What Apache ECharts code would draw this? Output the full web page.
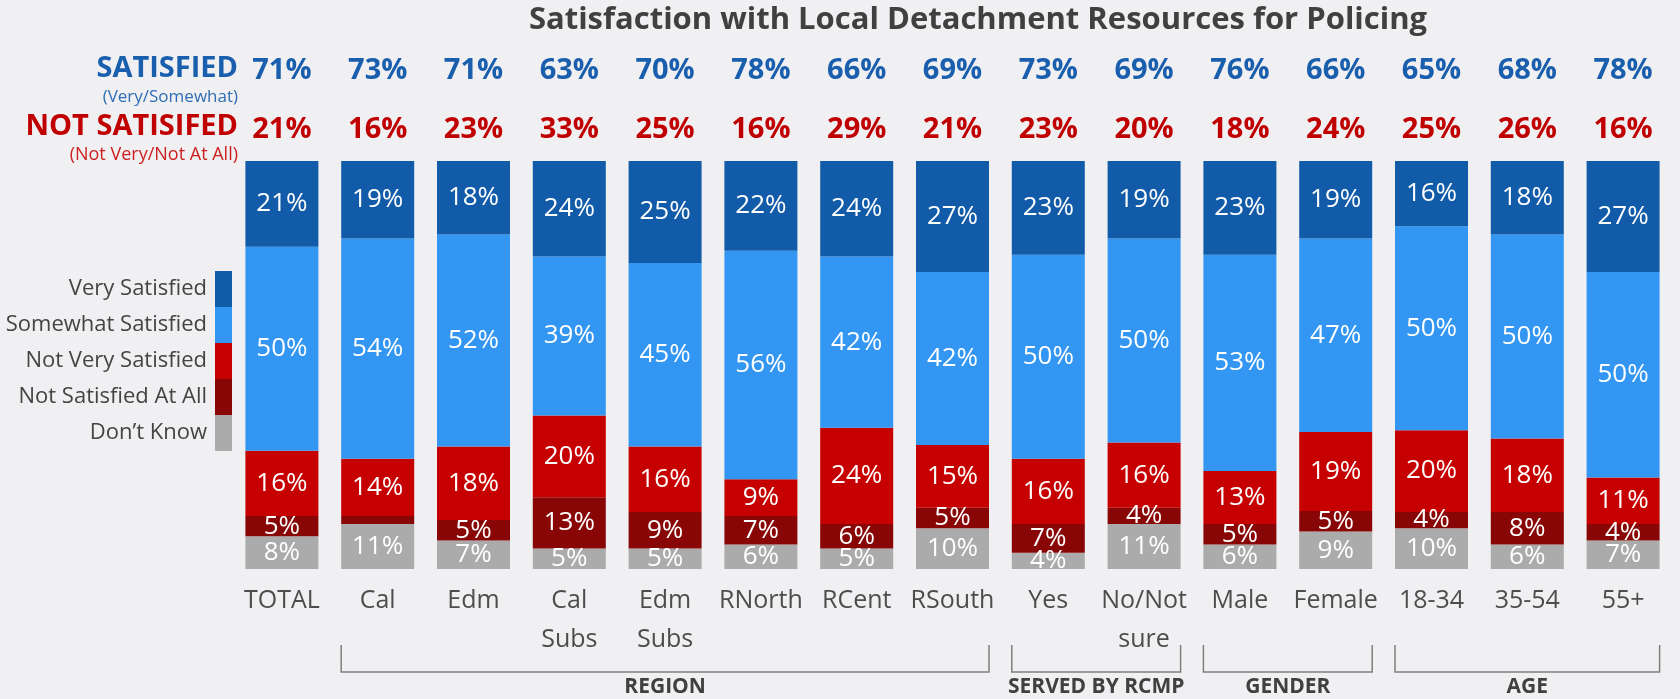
<!DOCTYPE html>
<html>
<head>
<meta charset="utf-8">
<script src="https://cdn.jsdelivr.net/npm/echarts@6/dist/echarts.min.js"></script>
<style>
  html, body { margin: 0; padding: 0; background: #f0f0f2; }
  #main { width: 1680px; height: 699px; }
</style>
</head>
<body>
<div id="main"></div>
<script>
// categories (bottom axis)
var categories = ['TOTAL', 'Cal', 'Edm', 'Cal\nSubs', 'Edm\nSubs', 'RNorth', 'RCent', 'RSouth',
                  'Yes', 'No/Not\nsure', 'Male', 'Female', '18-34', '35-54', '55+'];

// stacked segments, bottom to top (labels show rounded values)
var dontKnow       = [8, 11, 7, 5, 5, 6, 5, 10, 4, 11, 6, 9.2, 10, 6, 7];
var notAtAll       = [5, 2, 5, 12.6, 9, 7, 6, 5, 7, 4, 5, 5, 4, 8, 4];
var notVery        = [16, 14, 18, 20, 16, 9, 23.6, 15.4, 16, 16, 13, 19.4, 20, 18, 11.4];
var somewhat       = [50, 54, 52, 39, 45, 56, 42, 42.4, 50, 50, 53, 47.4, 50, 50, 50.4];
var verySatisfied  = [21, 19, 18, 23.6, 25, 22, 23.6, 27.2, 23, 19, 23, 19, 16, 18, 27.2];

// net rows at top
var satisfiedNet    = [71, 73, 71, 63, 70, 78, 66, 69, 73, 69, 76, 66, 65, 68, 78];
var notSatisfiedNet = [21, 16, 23, 33, 25, 16, 29, 21, 23, 20, 18, 24, 25, 26, 16];

// groups under the axis: [label, first index, last index]
var groups = [['REGION', 1, 7], ['SERVED BY RCMP', 8, 9], ['GENDER', 10, 11], ['AGE', 12, 14]];

var FONT = '"Open Sans", sans-serif';
var colors = {
  very: '#115ba9', somewhat: '#3296f2', notVery: '#c60000', notAtAll: '#880606', dk: '#ababab'
};

function pct(v) { return v + '%'; }

function seg(name, data, color) {
  return {
    name: name, type: 'bar', stack: 'all', data: data, barWidth: 73,
    itemStyle: { color: color },
    label: {
      show: true, position: 'inside', color: '#fff', fontSize: 26, fontFamily: FONT,
      formatter: function (p) { return p.value < 3 ? '' : Math.round(p.value) + '%'; }
    }
  };
}

var myChart = echarts.init(document.getElementById('main'));

myChart.setOption({
  backgroundColor: '#f0f0f2',
  animation: false,
  legend: {
    orient: 'vertical', right: 1680 - 232, top: 271, align: 'right', padding: 0,
    itemGap: 0, itemWidth: 17, itemHeight: 36, icon: 'rect',
    selectedMode: false,
    textStyle: { fontFamily: FONT, fontSize: 22, color: '#444', padding: [0, 3, 0, 0] },
    data: ['Very Satisfied', 'Somewhat Satisfied', 'Not Very Satisfied', 'Not Satisfied At All', 'Don\u2019t Know']
  },
  grid: { left: 234, right: 9, top: 161, bottom: 130 },
  xAxis: [
    {
      type: 'category', data: categories,
      axisLine: { show: false }, axisTick: { show: false },
      axisLabel: { margin: 12, fontFamily: FONT, fontSize: 25, color: '#4d4d4d', lineHeight: 39, interval: 0 }
    },
    {
      type: 'category', data: satisfiedNet.map(pct), position: 'top', offset: 90,
      axisLine: { show: false }, axisTick: { show: false },
      axisLabel: { margin: 0, verticalAlign: 'middle', fontFamily: FONT, fontSize: 29, fontWeight: 'bold', color: '#1a5eae', interval: 0 }
    },
    {
      type: 'category', data: notSatisfiedNet.map(pct), position: 'top', offset: 31,
      axisLine: { show: false }, axisTick: { show: false },
      axisLabel: { margin: 0, verticalAlign: 'middle', fontFamily: FONT, fontSize: 29, fontWeight: 'bold', color: '#c00000', interval: 0 }
    }
  ],
  yAxis: { type: 'value', min: 0, max: 100, show: false },
  series: [
    seg('Don\u2019t Know', dontKnow, colors.dk),
    seg('Not Satisfied At All', notAtAll, colors.notAtAll),
    seg('Not Very Satisfied', notVery, colors.notVery),
    seg('Somewhat Satisfied', somewhat, colors.somewhat),
    seg('Very Satisfied', verySatisfied, colors.very)
  ]
});

// title, row titles and group brackets
var g = [
  { type: 'text', x: 978, y: 20,
    style: { text: 'Satisfaction with Local Detachment Resources for Policing', fontFamily: FONT, fontSize: 31,
             fontWeight: 'bold', fill: '#404040', textAlign: 'center', textVerticalAlign: 'middle' } },
  { type: 'text', x: 238, y: 69,
    style: { text: 'SATISFIED', fontFamily: FONT, fontSize: 29, fontWeight: 'bold', fill: '#1a5eae',
             textAlign: 'right', textVerticalAlign: 'middle' } },
  { type: 'text', x: 238, y: 97,
    style: { text: '(Very/Somewhat)', fontFamily: FONT, fontSize: 17, fill: '#2e6db4',
             textAlign: 'right', textVerticalAlign: 'middle' } },
  { type: 'text', x: 238, y: 127,
    style: { text: 'NOT SATISIFED', fontFamily: FONT, fontSize: 29, fontWeight: 'bold', fill: '#c00000',
             textAlign: 'right', textVerticalAlign: 'middle' } },
  { type: 'text', x: 238, y: 155,
    style: { text: '(Not Very/Not At All)', fontFamily: FONT, fontSize: 18, fill: '#cc2020',
             textAlign: 'right', textVerticalAlign: 'middle' } }
];

var half = 36.5;
groups.forEach(function (gr) {
  var x1 = myChart.convertToPixel({ xAxisIndex: 0 }, categories[gr[1]]) - half;
  var x2 = myChart.convertToPixel({ xAxisIndex: 0 }, categories[gr[2]]) + half;
  g.push({
    type: 'polyline', silent: true,
    shape: { points: [[x1, 645], [x1, 672], [x2, 672], [x2, 645]] },
    style: { stroke: '#7f7f7f', lineWidth: 1.5, fill: null }
  });
  g.push({
    type: 'text', x: (x1 + x2) / 2, y: 687,
    style: { text: gr[0], fontFamily: FONT, fontSize: 21, fontWeight: 'bold', fill: '#404040',
             textAlign: 'center', textVerticalAlign: 'middle' }
  });
});

myChart.setOption({ graphic: g });
</script>
</body>
</html>
